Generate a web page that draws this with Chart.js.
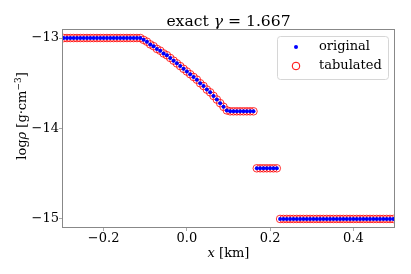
<!DOCTYPE html>
<html>
<head>
<meta charset="utf-8">
<script src="https://cdn.jsdelivr.net/npm/chart.js@4"></script>
<style>
  html, body { margin: 0; padding: 0; background: #fff; }
  #wrap { width: 411px; height: 274px; }
</style>
</head>
<body>
<div id="wrap"><canvas id="chart" width="411" height="274"></canvas></div>
<script>
// positions x [km] of the cells
const xKm = [
  -0.296, -0.288, -0.280, -0.272, -0.264, -0.256, -0.248, -0.240, -0.232, -0.224,
  -0.216, -0.208, -0.200, -0.192, -0.184, -0.176, -0.168, -0.160, -0.152, -0.144,
  -0.136, -0.128, -0.120, -0.112, -0.104, -0.096, -0.088, -0.080, -0.072, -0.064,
  -0.056, -0.048, -0.040, -0.032, -0.024, -0.016, -0.008, 0.000, 0.008, 0.016,
  0.024, 0.032, 0.040, 0.048, 0.056, 0.064, 0.072, 0.080, 0.088, 0.096,
  0.104, 0.112, 0.120, 0.128, 0.136, 0.144, 0.152, 0.160, 0.168, 0.176,
  0.184, 0.192, 0.200, 0.208, 0.216, 0.224, 0.232, 0.240, 0.248, 0.256,
  0.264, 0.272, 0.280, 0.288, 0.296, 0.304, 0.312, 0.320, 0.328, 0.336,
  0.344, 0.352, 0.360, 0.368, 0.376, 0.384, 0.392, 0.400, 0.408, 0.416,
  0.424, 0.432, 0.440, 0.448, 0.456, 0.464, 0.472, 0.480, 0.488, 0.496
];

// log rho
const logRhoOriginal = [
  -13.00, -13.00, -13.00, -13.00, -13.00, -13.00, -13.00, -13.00, -13.00, -13.00,
  -13.00, -13.00, -13.00, -13.00, -13.00, -13.00, -13.00, -13.00, -13.00, -13.00,
  -13.00, -13.00, -13.00, -13.00, -13.02, -13.04, -13.07, -13.09, -13.12, -13.14,
  -13.17, -13.19, -13.22, -13.25, -13.28, -13.31, -13.34, -13.37, -13.40, -13.43,
  -13.46, -13.50, -13.53, -13.57, -13.60, -13.64, -13.68, -13.72, -13.76, -13.80,
  -13.81, -13.81, -13.81, -13.81, -13.81, -13.81, -13.81, -13.81, -14.44, -14.44,
  -14.44, -14.44, -14.44, -14.44, -14.44, -15.00, -15.00, -15.00, -15.00, -15.00,
  -15.00, -15.00, -15.00, -15.00, -15.00, -15.00, -15.00, -15.00, -15.00, -15.00,
  -15.00, -15.00, -15.00, -15.00, -15.00, -15.00, -15.00, -15.00, -15.00, -15.00,
  -15.00, -15.00, -15.00, -15.00, -15.00, -15.00, -15.00, -15.00, -15.00, -15.00
];
// the tabulated values lie on top of the original ones
const logRhoTabulated = logRhoOriginal.slice();

const xTicks = [-0.2, 0.0, 0.2, 0.4];
const yTicks = [-15, -14, -13];

const FONT = "'DejaVu Serif', 'Liberation Serif', serif";
const minus = (s) => s.replace('-', '\u2212');

// titles, frame and legend drawn like matplotlib
const decorPlugin = {
  id: 'decor',
  afterDraw(chart) {
    const c = chart.ctx;
    const a = chart.chartArea;
    c.save();
    c.strokeStyle = '#888';
    c.lineWidth = 1;
    c.strokeRect(a.left + 0.5, a.top + 0.5, a.right - a.left - 1, a.bottom - a.top - 1);

    // pieces of text with their own font
    function pieces(parts) {
      let w = 0;
      parts.forEach(p => { c.font = p.font; p.w = c.measureText(p.t).width; w += p.w; });
      return w;
    }
    function drawPieces(parts, x, y) {
      parts.forEach(p => {
        c.font = p.font;
        c.fillText(p.t, x, y + (p.dy || 0));
        x += p.w;
      });
    }
    c.fillStyle = '#000';
    c.textBaseline = 'alphabetic';
    c.textAlign = 'left';

    // title
    const tf = '15.6px ' + FONT, tfi = 'italic 15.6px ' + FONT;
    const title = [{ t: 'exact ', font: tf }, { t: '\u03b3', font: tfi }, { t: ' = 1.667', font: tf }];
    const tw = pieces(title);
    drawPieces(title, (a.left + a.right) / 2 - tw / 2, 26);

    // x label
    const lf = '13px ' + FONT, lfi = 'italic 13px ' + FONT, sf = '9px ' + FONT;
    const xl = [{ t: 'x', font: lfi }, { t: ' [km]', font: lf }];
    const xw = pieces(xl);
    drawPieces(xl, (a.left + a.right) / 2 - xw / 2, 257);

    // y label
    const yl = [{ t: 'log', font: lf }, { t: '\u03c1', font: lfi }, { t: ' [g\u00b7cm', font: lf },
                { t: '\u22123', font: sf, dy: -5 }, { t: ']', font: lf }];
    const yw = pieces(yl);
    c.save();
    c.translate(26, 116);
    c.rotate(-Math.PI / 2);
    drawPieces(yl, -yw / 2, 0);
    c.restore();

    // legend
    const bx = 277, by = 36, bw = 111, bh = 43;
    c.beginPath();
    c.roundRect(bx + 0.5, by + 0.5, bw, bh, 3);
    c.fillStyle = 'rgba(255,255,255,0.8)';
    c.fill();
    c.strokeStyle = '#d6d6d6';
    c.stroke();
    c.fillStyle = '#0000ff';
    c.beginPath();
    c.arc(296, 47, 2, 0, Math.PI * 2);
    c.fill();
    c.strokeStyle = '#ff0000';
    c.beginPath();
    c.arc(296, 66, 3.8, 0, Math.PI * 2);
    c.stroke();
    c.fillStyle = '#000';
    c.font = lf;
    c.textBaseline = 'middle';
    c.fillText('original', 319, 47);
    c.fillText('tabulated', 319, 66);
    c.restore();
  }
};

const ctx = document.getElementById('chart').getContext('2d');
new Chart(ctx, {
  type: 'scatter',
  data: {
    datasets: [
      {
        label: 'original',
        data: xKm.map((x, i) => ({ x: x, y: logRhoOriginal[i] })),
        pointRadius: 2,
        pointBackgroundColor: '#0000ff',
        pointBorderWidth: 0,
        showLine: false
      },
      {
        label: 'tabulated',
        data: xKm.map((x, i) => ({ x: x, y: logRhoTabulated[i] })),
        pointRadius: 3.8,
        pointBackgroundColor: 'rgba(0,0,0,0)',
        pointBorderColor: 'rgba(255,0,0,0.8)',
        pointBorderWidth: 1,
        showLine: false
      }
    ]
  },
  options: {
    responsive: false,
    animation: false,
    devicePixelRatio: 1,
    layout: { padding: { top: 29, right: 16, left: 0, bottom: 0 } },
    plugins: {
      legend: { display: false },
      title: { display: false },
      tooltip: { enabled: false }
    },
    scales: {
      x: {
        type: 'linear',
        min: -0.3,
        max: 0.5,
        afterBuildTicks: (s) => { s.ticks = xTicks.map(v => ({ value: v })); },
        afterFit: (s) => { s.height = 46; },
        border: { display: false },
        grid: { drawOnChartArea: false, drawTicks: true, tickLength: 3, color: '#aaa' },
        ticks: {
          color: '#000',
          padding: 0,
          font: { family: FONT, size: 13 },
          callback: (v) => minus(Number(v).toFixed(1))
        }
      },
      y: {
        type: 'linear',
        min: -15.1,
        max: -12.9,
        afterBuildTicks: (s) => { s.ticks = yTicks.map(v => ({ value: v })); },
        afterFit: (s) => { s.width = 62; },
        border: { display: false },
        grid: { drawOnChartArea: false, drawTicks: true, tickLength: 3, color: '#aaa' },
        ticks: {
          color: '#000',
          padding: 0,
          font: { family: FONT, size: 13 },
          callback: (v) => minus(String(v))
        }
      }
    }
  },
  plugins: [decorPlugin]
});
</script>
</body>
</html>
